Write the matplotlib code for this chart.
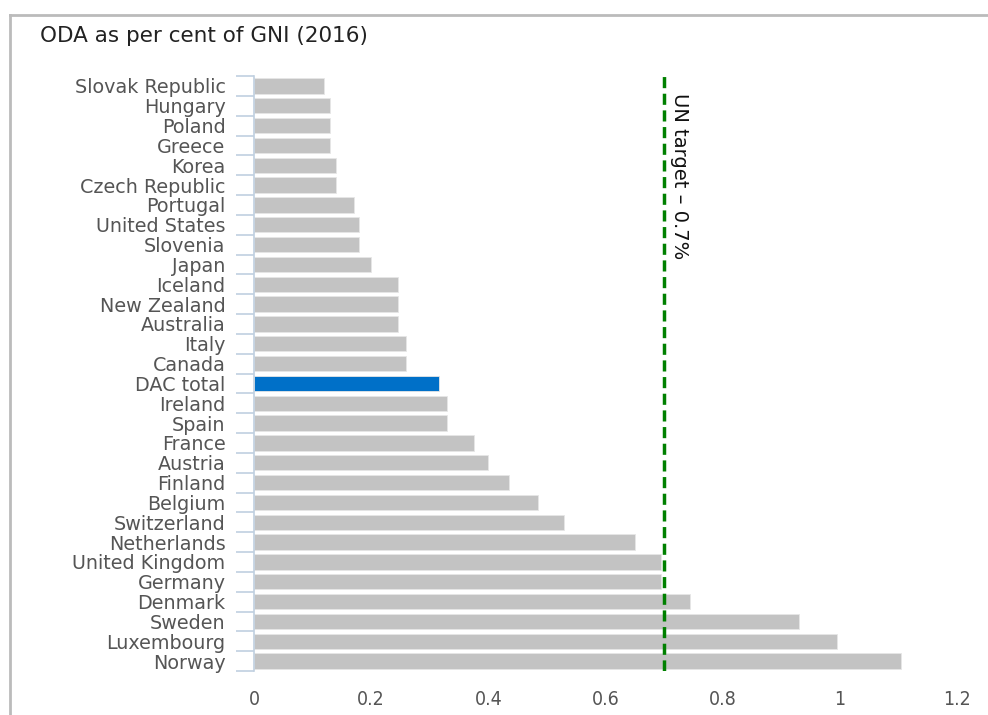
import matplotlib
matplotlib.use("Agg")
import matplotlib.pyplot as plt
from matplotlib.lines import Line2D
import numpy as np

countries = ["Slovak Republic", "Hungary", "Poland", "Greece", "Korea",
             "Czech Republic", "Portugal", "United States", "Slovenia", "Japan",
             "Iceland", "New Zealand", "Australia", "Italy", "Canada",
             "DAC total", "Ireland", "Spain", "France", "Austria",
             "Finland", "Belgium", "Switzerland", "Netherlands", "United Kingdom",
             "Germany", "Denmark", "Sweden", "Luxembourg", "Norway"]
oda = [0.12, 0.13, 0.13, 0.13, 0.14,
       0.14, 0.17, 0.18, 0.18, 0.20,
       0.245, 0.245, 0.245, 0.26, 0.26,
       0.315, 0.33, 0.33, 0.375, 0.40,
       0.435, 0.485, 0.53, 0.65, 0.695,
       0.695, 0.745, 0.93, 0.995, 1.105]
un_target = 0.7
xticks = [0, 0.2, 0.4, 0.6, 0.8, 1, 1.2]
xlabels = ["0", "0.2", "0.4", "0.6", "0.8", "1", "1.2"]

fig = plt.figure(figsize=(9.88, 7.15), dpi=100)

# light frame round the chart (top and left edges)
fig.add_artist(Line2D([10/988, 10/988], [0, 1 - 15/715], transform=fig.transFigure,
                      color="#bbbbbb", lw=2))
fig.add_artist(Line2D([10/988, 1], [1 - 15/715, 1 - 15/715], transform=fig.transFigure,
                      color="#bbbbbb", lw=2))

ax = fig.add_axes([254/988, 1 - 671/715, (957 - 254)/988, (671 - 76)/715])

y = np.arange(len(countries))
colors = ["#0070c8" if c == "DAC total" else "#c3c3c3" for c in countries]
ax.barh(y, oda, height=0.77, color=colors, edgecolor="#e6e6e6", linewidth=0.6, zorder=2)

ax.axvline(un_target, color="#008000", lw=2.5, linestyle=(0, (3.2, 1.6)), zorder=3)
ax.text(un_target + 0.01, 0.35, "UN target – 0.7%", rotation=-90, va="top", ha="left",
        fontsize=14, color="#111111", family="DejaVu Sans")

ax.set_ylim(len(countries) - 0.5, -0.5)
ax.set_xlim(0, 1.2)

ax.set_yticks(np.arange(len(countries) + 1) - 0.5)
ax.set_yticklabels([])
ax.set_yticks(y, minor=True)
ax.set_yticklabels(countries, minor=True, fontsize=13.8, color="#555555")
ax.tick_params(axis="y", which="major", length=13, color="#c0d0e0", width=1.2)
ax.tick_params(axis="y", which="minor", length=0, pad=20.5)

ax.set_xticks(xticks)
ax.set_xticklabels(xlabels, fontsize=14, color="#555555", fontstretch="condensed")
ax.tick_params(axis="x", length=0, pad=14)

for s in ["top", "right", "bottom"]:
    ax.spines[s].set_visible(False)
ax.spines["left"].set_color("#c0d0e0")
ax.spines["left"].set_linewidth(1.2)

fig.text(40/988, 1 - 36/715, "ODA as per cent of GNI (2016)", fontsize=15.5,
         color="#222222", va="center", ha="left")

fig.savefig("out.png", dpi=100)
